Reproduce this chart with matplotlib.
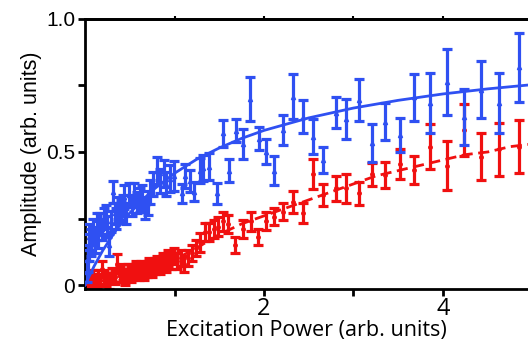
import numpy as np
import matplotlib
matplotlib.use("Agg")
import matplotlib.pyplot as plt

# blue series (triangles)
blue_x = [0.02, 0.03, 0.04, 0.05, 0.07, 0.09, 0.11, 0.13, 0.15, 0.17, 0.19, 0.21, 0.23, 0.25,
          0.27, 0.29, 0.31, 0.33, 0.35, 0.37, 0.40, 0.42, 0.44, 0.46, 0.49, 0.52, 0.55, 0.58,
          0.61, 0.64, 0.67, 0.70, 0.73, 0.76, 0.80, 0.84, 0.88, 0.91, 0.95, 0.99, 1.08, 1.12,
          1.17, 1.22, 1.28, 1.32, 1.39, 1.47, 1.54, 1.61, 1.69, 1.76, 1.84, 1.94, 2.02, 2.11,
          2.21, 2.32, 2.44, 2.55, 2.66, 2.80, 2.92, 3.06, 3.21, 3.35, 3.52, 3.68, 3.85, 4.04,
          4.23, 4.42, 4.63, 4.85]
blue_y = [0.05, 0.10, 0.14, 0.18, 0.16, 0.20, 0.17, 0.22, 0.19, 0.23, 0.21, 0.25, 0.26, 0.22,
          0.15, 0.24, 0.35, 0.27, 0.25, 0.29, 0.28, 0.30, 0.33, 0.27, 0.34, 0.30, 0.34, 0.31,
          0.32, 0.33, 0.29, 0.31, 0.35, 0.38, 0.43, 0.39, 0.42, 0.38, 0.40, 0.41, 0.345, 0.41,
          0.39, 0.35, 0.43, 0.44, 0.445, 0.345, 0.57, 0.43, 0.58, 0.53, 0.70, 0.55, 0.50, 0.43,
          0.583, 0.708, 0.633, 0.557, 0.47, 0.648, 0.624, 0.695, 0.535, 0.614, 0.564, 0.706, 0.685, 0.762,
          0.633, 0.733, 0.685, 0.818]
blue_err = [0.04, 0.05, 0.05, 0.05, 0.05, 0.05, 0.05, 0.05, 0.05, 0.04, 0.04, 0.04, 0.04, 0.04,
            0.04, 0.04, 0.04, 0.04, 0.04, 0.04, 0.04, 0.04, 0.045, 0.04, 0.045, 0.04, 0.045, 0.04,
            0.045, 0.045, 0.04, 0.045, 0.045, 0.045, 0.05, 0.045, 0.05, 0.045, 0.05, 0.055, 0.035, 0.044,
            0.041, 0.036, 0.047, 0.05, 0.05, 0.039, 0.05, 0.042, 0.042, 0.056, 0.082, 0.044, 0.047, 0.055,
            0.055, 0.085, 0.061, 0.065, 0.05, 0.059, 0.076, 0.078, 0.071, 0.069, 0.063, 0.088, 0.113, 0.124,
            0.105, 0.107, 0.112, 0.13]

# red series (circles)
red_x = [0.01, 0.03, 0.05, 0.07, 0.09, 0.11, 0.13, 0.15, 0.17, 0.19, 0.21, 0.24, 0.27, 0.30,
         0.33, 0.36, 0.39, 0.42, 0.45, 0.48, 0.51, 0.54, 0.57, 0.60, 0.63, 0.66, 0.69, 0.72,
         0.75, 0.78, 0.81, 0.84, 0.87, 0.90, 0.93, 0.96, 0.99, 1.03, 1.07, 1.11, 1.15, 1.19,
         1.24, 1.29, 1.34, 1.39, 1.44, 1.49, 1.54, 1.60, 1.68, 1.77, 1.86, 1.93, 2.02, 2.11,
         2.21, 2.32, 2.44, 2.55, 2.66, 2.80, 2.92, 3.06, 3.21, 3.35, 3.52, 3.68, 3.85, 4.04,
         4.23, 4.42, 4.63, 4.85]
red_y = [0.00, 0.01, 0.02, 0.01, 0.03, 0.02, 0.01, 0.03, 0.02, 0.06, 0.03, 0.02, 0.01, 0.04,
         0.03, 0.08, 0.04, 0.05, 0.03, 0.05, 0.04, 0.05, 0.06, 0.05, 0.06, 0.05, 0.06, 0.07,
         0.06, 0.07, 0.08, 0.07, 0.09, 0.08, 0.10, 0.09, 0.11, 0.09, 0.10, 0.08, 0.10, 0.12,
         0.14, 0.16, 0.20, 0.20, 0.21, 0.22, 0.24, 0.23, 0.15, 0.21, 0.24, 0.18, 0.24, 0.257,
         0.276, 0.313, 0.27, 0.416, 0.338, 0.363, 0.363, 0.345, 0.416, 0.414, 0.455, 0.432, 0.52, 0.449,
         0.583, 0.482, 0.51, 0.52]
red_err = [0.02, 0.02, 0.02, 0.02, 0.025, 0.02, 0.02, 0.025, 0.02, 0.03, 0.025, 0.025, 0.025, 0.025,
           0.025, 0.035, 0.03, 0.03, 0.03, 0.03, 0.03, 0.03, 0.03, 0.03, 0.03, 0.03, 0.03, 0.03,
           0.03, 0.03, 0.03, 0.03, 0.03, 0.03, 0.03, 0.03, 0.03, 0.03, 0.03, 0.03, 0.03, 0.03,
           0.03, 0.035, 0.035, 0.035, 0.035, 0.035, 0.035, 0.035, 0.03, 0.035, 0.035, 0.03, 0.034, 0.031,
           0.033, 0.041, 0.038, 0.056, 0.042, 0.046, 0.056, 0.043, 0.042, 0.05, 0.058, 0.053, 0.084, 0.091,
           0.097, 0.088, 0.10, 0.099]

# fit curves
blue_fit_x = [0, 0.1, 0.2, 0.35, 0.5, 0.75, 1.0, 1.25, 1.5, 1.75, 2.0, 2.5, 3.0, 3.5, 4.0, 4.5, 5.0]
blue_fit_y = [0, 0.070, 0.131, 0.208, 0.271, 0.355, 0.420, 0.473, 0.515, 0.551, 0.581, 0.628,
              0.665, 0.694, 0.718, 0.737, 0.753]
red_fit_x = [0, 0.25, 0.5, 0.75, 1.0, 1.25, 1.5, 1.75, 2.0, 2.25, 2.5, 2.75, 3.0, 3.25, 3.5,
             3.75, 4.0, 4.25, 4.5, 4.75, 5.0]
red_fit_y = [0, 0.02, 0.045, 0.07, 0.095, 0.14, 0.19, 0.23, 0.26, 0.29, 0.32, 0.35, 0.38, 0.41,
             0.43, 0.45, 0.47, 0.49, 0.50, 0.52, 0.53]

blue = '#2f50f2'
red = '#f01010'

fig = plt.figure(figsize=(5.28, 3.56), dpi=100)
ax = fig.add_axes([0.161, 0.188, 0.839, 0.759])

ax.errorbar(red_x, red_y, yerr=red_err, fmt='o', ms=2.5, color=red, ecolor=red,
            elinewidth=2.3, capsize=3.5, capthick=2.3, zorder=2)
ax.plot(red_fit_x, red_fit_y, '--', color=red, lw=2, dashes=(4, 2), zorder=3)
ax.errorbar(blue_x, blue_y, yerr=blue_err, fmt='^', ms=3, color=blue, ecolor=blue,
            elinewidth=2.3, capsize=3.5, capthick=2.3, zorder=4)
ax.plot(blue_fit_x, blue_fit_y, '-', color=blue, lw=2, zorder=5)

ax.set_xlim(0, 4.95)
ax.set_ylim(-0.015, 1.0)

for s in ['left', 'bottom', 'top']:
    ax.spines[s].set_linewidth(2)
ax.spines['right'].set_visible(False)

ax.set_xticks([1, 2, 3, 4])
ax.set_xticklabels(['', '2', '', '4'], fontsize=17, family='Open Sans')
ax.set_yticks([0, 0.25, 0.5, 0.75, 1.0])
ax.set_yticklabels(['0', '', '0.5', '', '1.0'], fontsize=15, family='Liberation Sans')
ax.tick_params(axis='both', direction='out', width=2, length=5, pad=2)
ax.tick_params(axis='x', pad=1)

# small ticks along the top edge
top = ax.secondary_xaxis('top')
top.set_xticks([1, 2, 3, 4])
top.set_xticklabels([])
top.tick_params(direction='out', width=1.5, length=2)
top.spines['top'].set_linewidth(2)

ax.set_xlabel('Excitation Power (arb. units)', fontsize=15.5, family='Open Sans', labelpad=-1)
ax.set_ylabel('Amplitude (arb. units)', fontsize=15.5, family='Liberation Sans', labelpad=3)

fig.savefig('out.png', dpi=100)
